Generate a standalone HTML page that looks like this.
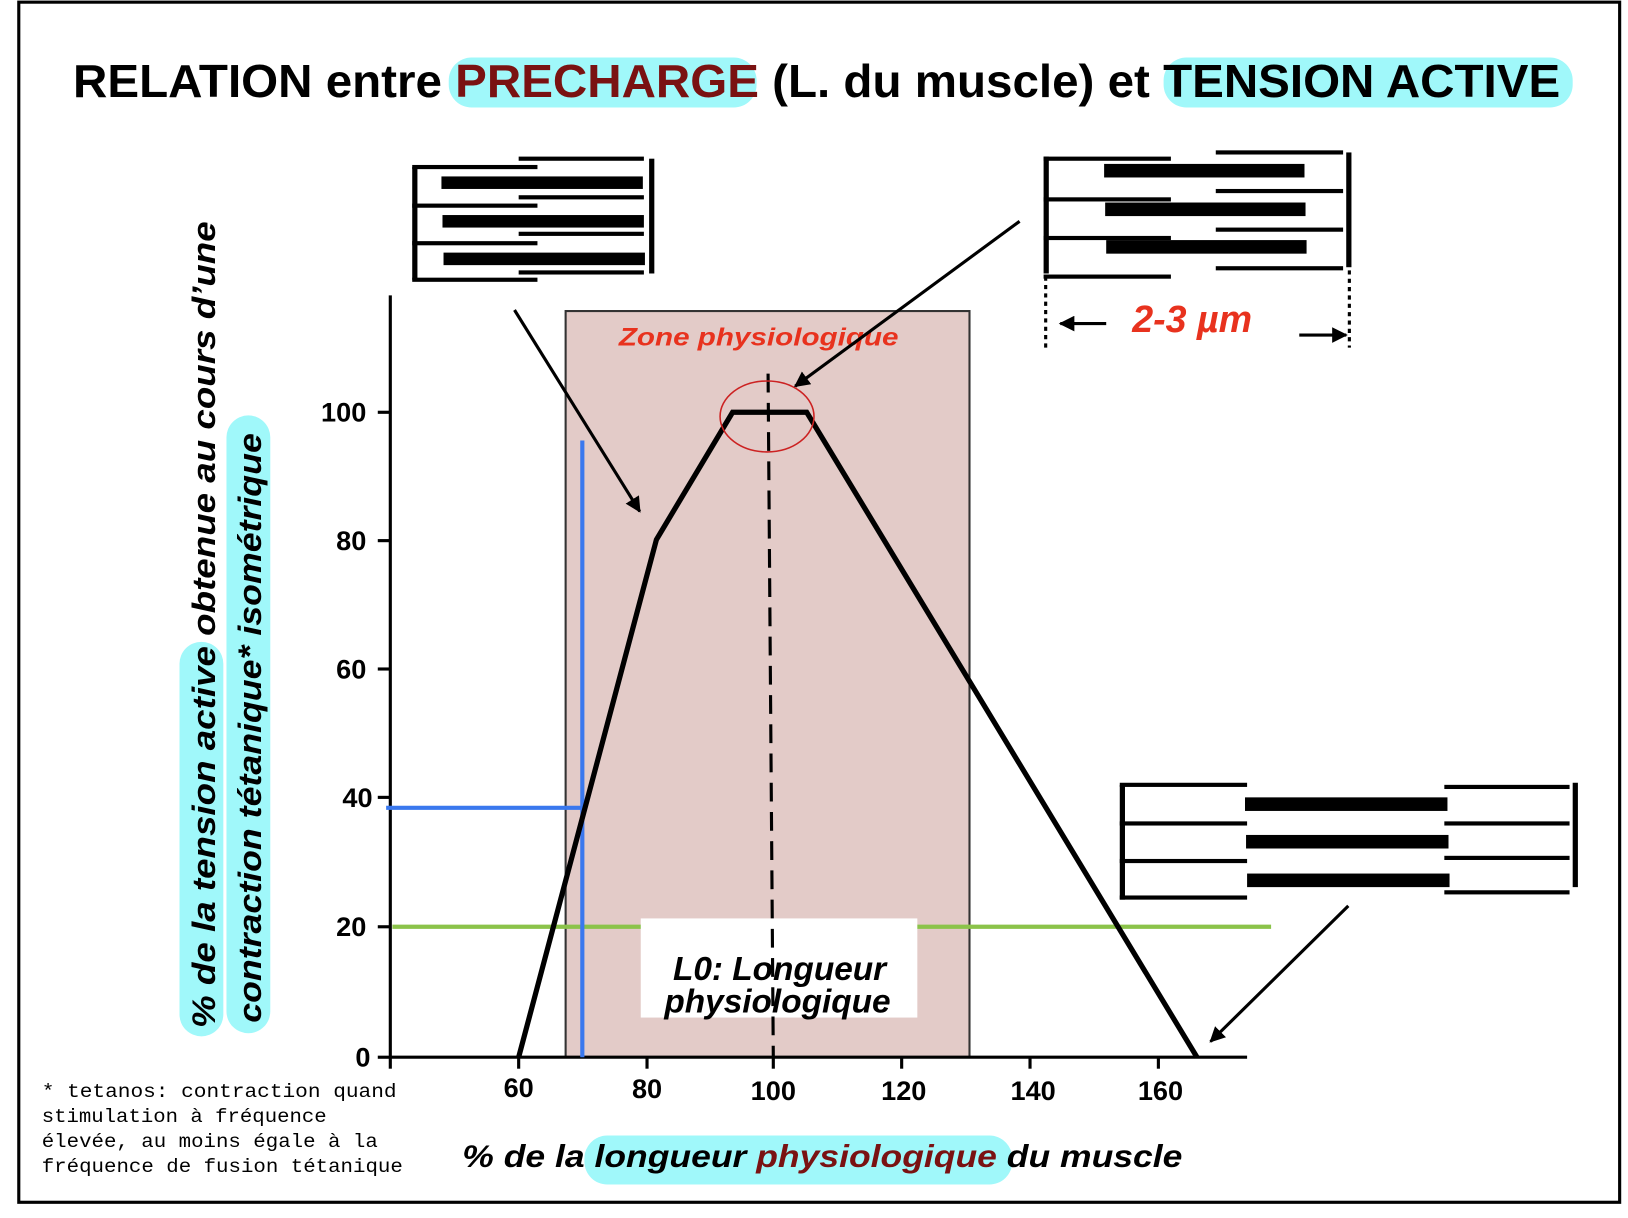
<!DOCTYPE html>
<html><head><meta charset="utf-8"><style>html,body{margin:0;padding:0;background:#fff}svg{display:block}</style></head><body>
<svg width="1628" height="1218" viewBox="0 0 1560 1167" xmlns="http://www.w3.org/2000/svg" font-family="Liberation Sans, sans-serif">
<defs>
<marker id="ah" viewBox="0 0 10 10" refX="9" refY="5" markerWidth="5" markerHeight="5" orient="auto"><path d="M0,0 L10,5 L0,10 z" fill="#000"/></marker>
</defs>
<rect x="18" y="2" width="1534" height="1150" fill="#fff" stroke="#000" stroke-width="3"/>
<rect x="430" y="55" width="295" height="48" rx="22" fill="#a0f8fa"/>
<rect x="1115" y="55" width="392" height="48" rx="22" fill="#a0f8fa"/>
<text x="70" y="93" font-size="44" font-weight="bold" textLength="1425" lengthAdjust="spacingAndGlyphs">RELATION entre <tspan fill="#7a1212">PRECHARGE</tspan> (L. du muscle)  et TENSION ACTIVE</text>
<rect x="542" y="298" width="387" height="715" fill="#e3cbc8" stroke="#333" stroke-width="2"/>
<text x="727" y="331" font-size="24" font-weight="bold" font-style="italic" fill="#e8321e" text-anchor="middle" textLength="268" lengthAdjust="spacingAndGlyphs">Zone physiologique</text>
<g stroke="#000" stroke-width="3">
<line x1="374" y1="283" x2="374" y2="1014"/>
<line x1="373" y1="1013" x2="1195" y2="1013"/>
<line x1="362" y1="395" x2="374" y2="395"/><line x1="362" y1="518" x2="374" y2="518"/><line x1="362" y1="641" x2="374" y2="641"/><line x1="362" y1="764" x2="374" y2="764"/><line x1="362" y1="888" x2="374" y2="888"/><line x1="362" y1="1013" x2="374" y2="1013"/>
<line x1="374" y1="1013" x2="374" y2="1024"/><line x1="497" y1="1013" x2="497" y2="1024"/><line x1="620" y1="1013" x2="620" y2="1024"/><line x1="741" y1="1013" x2="741" y2="1024"/><line x1="864" y1="1013" x2="864" y2="1024"/><line x1="987" y1="1013" x2="987" y2="1024"/><line x1="1110" y1="1013" x2="1110" y2="1024"/>
</g>
<g font-size="26" font-weight="bold" text-anchor="end">
<text x="351" y="404">100</text><text x="351" y="527">80</text><text x="351" y="650">60</text><text x="357" y="773">40</text><text x="351" y="897">20</text><text x="355" y="1022">0</text>
</g>
<g font-size="26" font-weight="bold" text-anchor="middle">
<text x="497" y="1051">60</text><text x="620" y="1052">80</text><text x="741" y="1054">100</text><text x="866" y="1054">120</text><text x="990" y="1054">140</text><text x="1112" y="1054">160</text>
</g>
<line x1="376" y1="888" x2="1218" y2="888" stroke="#8bc34a" stroke-width="4"/>
<rect x="614" y="880" width="265" height="95" fill="#fff"/>
<text font-size="32" font-weight="bold" font-style="italic" text-anchor="middle"><tspan x="747" y="939">L0:  Longueur</tspan><tspan x="745" y="970">physiologique</tspan></text>
<line x1="558" y1="422" x2="558" y2="1013" stroke="#3a78ee" stroke-width="4"/>
<line x1="370" y1="774" x2="562" y2="774" stroke="#3a78ee" stroke-width="4"/>
<line x1="736" y1="358" x2="741" y2="1013" stroke="#000" stroke-width="3" stroke-dasharray="18,10"/>
<polyline points="497,1013 629,517 702,395 773,395 1147,1013" fill="none" stroke="#000" stroke-width="5"/>
<ellipse cx="735" cy="399" rx="45" ry="34" fill="none" stroke="#cc2222" stroke-width="1.5"/>
<g stroke="#000" stroke-width="3" marker-end="url(#ah)">
<line x1="493" y1="297" x2="613" y2="490"/>
<line x1="977" y1="212" x2="762" y2="370"/>
<line x1="1292" y1="868" x2="1160" y2="998"/>
<line x1="1060" y1="310" x2="1016" y2="310"/>
<line x1="1245" y1="321" x2="1290" y2="321"/>
</g>
<g fill="#000">
<rect x="395" y="160" width="5" height="108"/>
<rect x="395" y="158" width="120" height="4"/><rect x="395" y="195" width="120" height="4"/><rect x="395" y="231" width="120" height="4"/><rect x="395" y="266" width="120" height="4"/>
<rect x="497" y="150" width="120" height="4"/><rect x="497" y="187" width="120" height="4"/><rect x="497" y="222" width="120" height="4"/><rect x="497" y="259" width="120" height="4"/>
<rect x="423" y="169" width="193" height="12"/><rect x="424" y="206" width="193" height="12"/><rect x="425" y="242" width="193" height="12"/>
<rect x="622" y="152" width="5" height="110"/>
</g>
<g fill="#000">
<rect x="1000" y="150" width="5" height="112"/>
<rect x="1000" y="150" width="122" height="4"/><rect x="1000" y="189" width="122" height="4"/><rect x="1000" y="226" width="122" height="4"/><rect x="1000" y="263" width="122" height="4"/>
<rect x="1165" y="144" width="122" height="4"/><rect x="1165" y="181" width="122" height="4"/><rect x="1165" y="218" width="122" height="4"/><rect x="1165" y="255" width="122" height="4"/>
<rect x="1058" y="157" width="192" height="13"/><rect x="1059" y="194" width="192" height="13"/><rect x="1060" y="230" width="192" height="13"/>
<rect x="1290" y="146" width="5" height="110"/>
</g>
<line x1="1002" y1="265" x2="1002" y2="333" stroke="#000" stroke-width="3" stroke-dasharray="4,4"/>
<line x1="1293" y1="259" x2="1293" y2="333" stroke="#000" stroke-width="3" stroke-dasharray="4,4"/>
<text x="1085" y="318" font-size="36" font-weight="bold" font-style="italic" fill="#e8321e">2-3  µm</text>
<g fill="#000">
<rect x="1073" y="752" width="5" height="110"/>
<rect x="1073" y="750" width="122" height="4"/><rect x="1073" y="787" width="122" height="4"/><rect x="1073" y="823" width="122" height="4"/><rect x="1073" y="858" width="122" height="4"/>
<rect x="1384" y="752" width="120" height="4"/><rect x="1384" y="787" width="120" height="4"/><rect x="1384" y="820" width="120" height="4"/><rect x="1384" y="853" width="120" height="4"/>
<rect x="1193" y="764" width="194" height="13"/><rect x="1194" y="800" width="194" height="13"/><rect x="1195" y="837" width="194" height="13"/>
<rect x="1507" y="750" width="5" height="100"/>
</g>
<rect x="172" y="615" width="42" height="378" rx="21" fill="#a0f8fa"/>
<rect x="217" y="398" width="42" height="592" rx="21" fill="#a0f8fa"/>
<g font-size="31" font-weight="bold" font-style="italic">
<text transform="translate(206,985) rotate(-90)" textLength="773" lengthAdjust="spacingAndGlyphs">% de la tension active  obtenue au cours d’une</text>
<text transform="translate(250,980) rotate(-90)" textLength="565" lengthAdjust="spacingAndGlyphs">contraction tétanique* isométrique</text>
</g>
<rect x="560" y="1088" width="410" height="47" rx="22" fill="#a0f8fa"/>
<text x="443" y="1118" font-size="30" font-weight="bold" font-style="italic" textLength="690" lengthAdjust="spacingAndGlyphs">% de la longueur <tspan fill="#7a1212">physiologique</tspan> du muscle</text>
<g font-family="Liberation Mono, monospace" font-size="19">
<text x="40" y="1051" textLength="340" lengthAdjust="spacingAndGlyphs">*  tetanos: contraction quand</text>
<text x="40" y="1075" textLength="273" lengthAdjust="spacingAndGlyphs">stimulation à fréquence</text>
<text x="40" y="1099" textLength="322" lengthAdjust="spacingAndGlyphs">élevée, au moins égale à la</text>
<text x="40" y="1123" textLength="346" lengthAdjust="spacingAndGlyphs">fréquence de fusion tétanique</text>
</g>
</svg>
</body></html>
